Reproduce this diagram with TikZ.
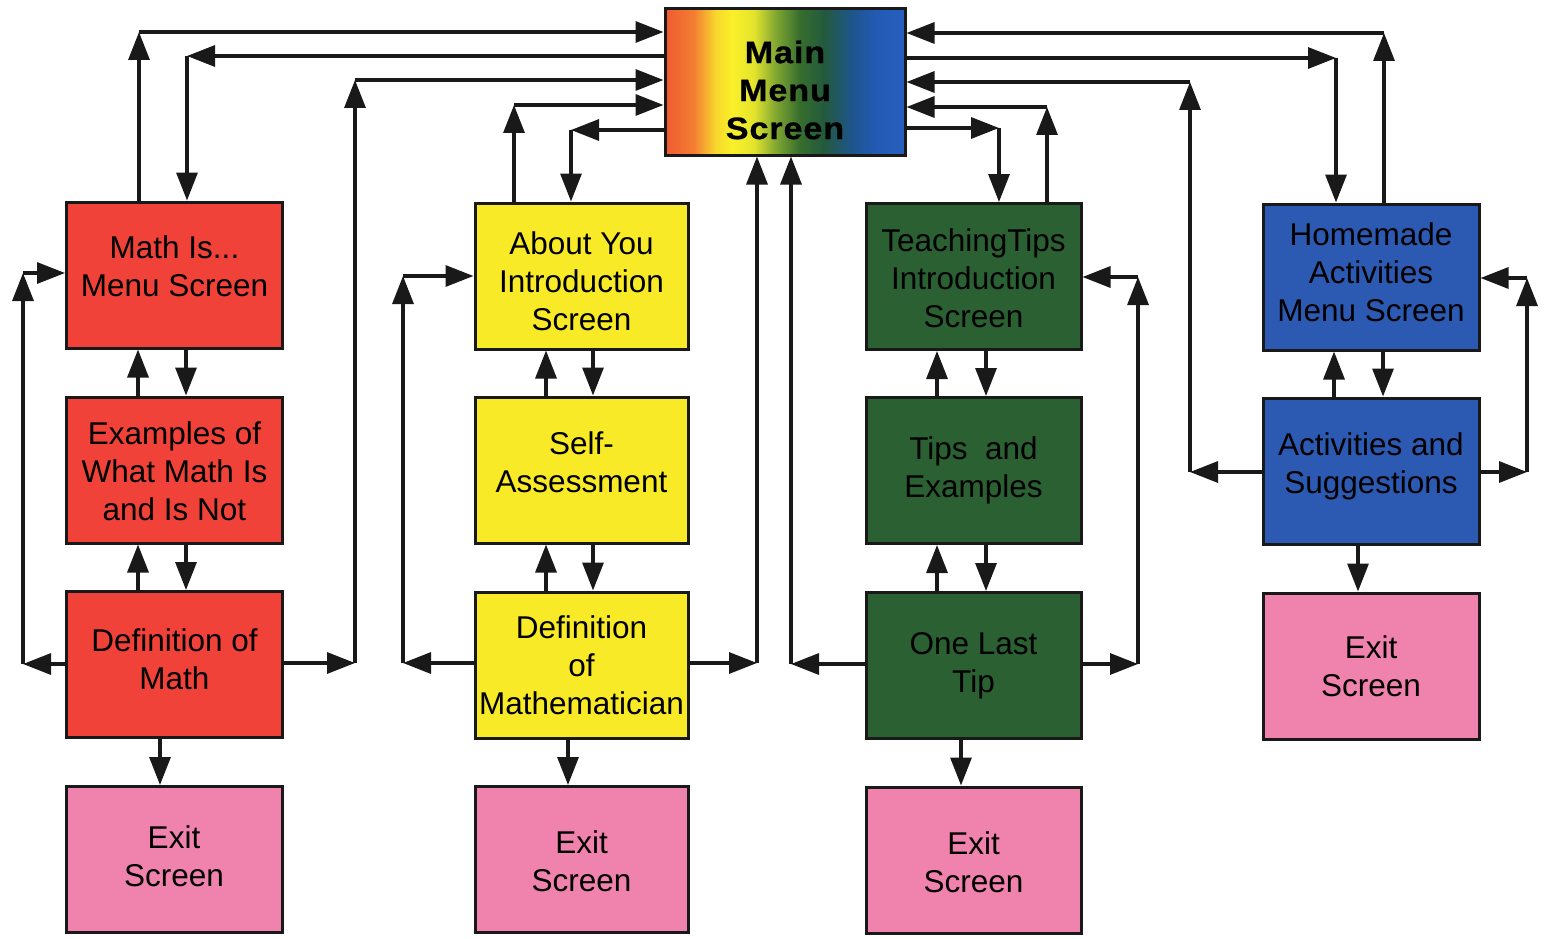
\documentclass[tikz,border=0pt]{standalone}
\usepackage{fontspec}
\setmainfont{Liberation Sans}
\newfontfamily\mainfnt[FakeStretch=1.1,LetterSpace=3,FakeBold=0.8]{Liberation Sans}
\usetikzlibrary{arrows.meta}
\definecolor{cred}{RGB}{240,66,56}
\definecolor{cyel}{RGB}{248,234,38}
\definecolor{cgrn}{RGB}{42,96,50}
\definecolor{cblu}{RGB}{44,90,178}
\definecolor{cpnk}{RGB}{240,130,174}
\definecolor{gA}{RGB}{240,90,50}
\definecolor{gB}{RGB}{243,125,50}
\definecolor{gC}{RGB}{248,215,45}
\definecolor{gD}{RGB}{250,240,40}
\definecolor{gE}{RGB}{228,228,45}
\definecolor{gF}{RGB}{130,168,50}
\definecolor{gG}{RGB}{55,110,45}
\definecolor{gH}{RGB}{35,90,60}
\definecolor{gI}{RGB}{30,85,140}
\definecolor{gJ}{RGB}{35,90,180}
\definecolor{gK}{RGB}{40,95,190}
\pgfdeclarehorizontalshading{rainbow}{100bp}{color(0bp)=(gA); color(25bp)=(gA); color(31bp)=(gB); color(35.5bp)=(gC); color(39bp)=(gD); color(43.5bp)=(gE); color(48bp)=(gF); color(53bp)=(gG); color(58bp)=(gH); color(64bp)=(gI); color(69bp)=(gJ); color(75bp)=(gK); color(100bp)=(gK)}
\tikzset{
  box/.style={draw=black!90, line width=3pt, minimum width=216pt, minimum height=146pt, inner sep=0pt},
  tx/.style={align=center, inner sep=0pt, font=\fontsize{31.5}{38}\selectfont},
  redbox/.style={box, fill=cred},
  yelbox/.style={box, fill=cyel},
  grnbox/.style={box, fill=cgrn},
  blubox/.style={box, fill=cblu},
  pnkbox/.style={box, fill=cpnk},
  arr/.style={-{Triangle[length=28pt,width=21pt]}, line width=3.2pt, draw=black!90},
}
\begin{document}
\begin{tikzpicture}[x=1pt,y=-1pt]
\useasboundingbox (0,0) rectangle (1544,939);
\fill[white] (0,0) rectangle (1544,939);

% main
\node[draw=black!90, line width=3pt, shading=rainbow, minimum width=240pt, minimum height=146pt, inner sep=0pt,
  label={[align=center, inner sep=0pt, yshift=-8pt, font=\mainfnt\bfseries\fontsize{31}{38}\selectfont]center:Main\\Menu\\Screen}] (main) at (785,82) {};

% column 1
\node[redbox, label={[tx,yshift=9pt]center:Math Is...\\Menu Screen}] (mathis) at (174.5,275) {};
\node[redbox, label={[tx,yshift=-1pt]center:Examples of\\What Math Is\\and Is Not}] (examples) at (174.5,470) {};
\node[redbox, label={[tx,yshift=5pt]center:Definition of\\Math}] (defmath) at (174.5,664.5) {};
\node[pnkbox, label={[tx,yshift=3pt]center:Exit\\Screen}] (exitA) at (174,859.5) {};

% column 2
\node[yelbox, minimum width=213pt, label={[tx,yshift=-5pt]center:About You\\Introduction\\Screen}] (about) at (581.5,276) {};
\node[yelbox, minimum width=213pt, label={[tx,yshift=8pt]center:Self-\\Assessment}] (self) at (581.5,470) {};
\node[yelbox, minimum width=213pt, label={[tx]center:Definition\\of\\Mathematician}] (defmat) at (581.5,665) {};
\node[pnkbox, minimum width=213pt, label={[tx,yshift=-2pt]center:Exit\\Screen}] (exitB) at (581.5,859.5) {};

% column 3
\node[grnbox, minimum width=215pt, label={[tx,yshift=-2pt]center:TeachingTips\\Introduction\\Screen}] (tt) at (973.5,276.5) {};
\node[grnbox, minimum width=215pt, label={[tx]center:Tips\ \ and\\Examples}] (tips) at (973.5,470.5) {};
\node[grnbox, minimum width=215pt, label={[tx]center:One Last\\Tip}] (one) at (973.5,665.5) {};
\node[pnkbox, minimum width=215pt, label={[tx,yshift=-2pt]center:Exit\\Screen}] (exitC) at (973.5,860) {};

% column 4
\node[blubox, label={[tx,yshift=5pt]center:Homemade\\Activities\\Menu Screen}] (home) at (1371,277) {};
\node[blubox, label={[tx,yshift=5pt]center:Activities and\\Suggestions}] (act) at (1371,471) {};
\node[pnkbox, label={[tx]center:Exit\\Screen}] (exitD) at (1371,666) {};

% ---- column 1 connectors
\coordinate (a1) at (139,32);
\draw[arr] (mathis.north -| a1) -- (a1);
\draw[arr] (a1) -- (a1 -| main.west);
\coordinate (a2) at (187,56);
\draw[arr] (a2 -| main.west) -- (a2);
\draw[arr] (a2) -- (mathis.north -| a2);
\coordinate (a3b) at (355,663);
\coordinate (a3t) at (355,80);
\draw[arr] (a3b -| defmath.east) -- (a3b);
\draw[arr] (a3b) -- (a3t);
\draw[arr] (a3t) -- (a3t -| main.west);
\coordinate (a4b) at (23,664);
\coordinate (a4t) at (23,273);
\draw[arr] (a4b -| defmath.west) -- (a4b);
\draw[arr] (a4b) -- (a4t);
\draw[arr] (a4t) -- (a4t -| mathis.west);
\coordinate (u1) at (138,0);
\coordinate (d1) at (186,0);
\coordinate (e1) at (160,0);
\draw[arr] (examples.north -| u1) -- (mathis.south -| u1);
\draw[arr] (mathis.south -| d1) -- (examples.north -| d1);
\draw[arr] (defmath.north -| u1) -- (examples.south -| u1);
\draw[arr] (examples.south -| d1) -- (defmath.north -| d1);
\draw[arr] (defmath.south -| e1) -- (exitA.north -| e1);

% ---- column 2 connectors
\coordinate (b1) at (514,105);
\draw[arr] (about.north -| b1) -- (b1);
\draw[arr] (b1) -- (b1 -| main.west);
\coordinate (b2) at (571,130);
\draw[arr] (b2 -| main.west) -- (b2);
\draw[arr] (b2) -- (about.north -| b2);
\coordinate (b3b) at (403,663);
\coordinate (b3t) at (403,276);
\draw[arr] (b3b -| defmat.west) -- (b3b);
\draw[arr] (b3b) -- (b3t);
\draw[arr] (b3t) -- (b3t -| about.west);
\coordinate (b4) at (757,663);
\draw[arr] (b4 -| defmat.east) -- (b4);
\draw[arr] (b4) -- (main.south -| b4);
\coordinate (u2) at (546,0);
\coordinate (d2) at (593,0);
\coordinate (e2) at (568,0);
\draw[arr] (self.north -| u2) -- (about.south -| u2);
\draw[arr] (about.south -| d2) -- (self.north -| d2);
\draw[arr] (defmat.north -| u2) -- (self.south -| u2);
\draw[arr] (self.south -| d2) -- (defmat.north -| d2);
\draw[arr] (defmat.south -| e2) -- (exitB.north -| e2);

% ---- column 3 connectors
\coordinate (c1) at (791,664);
\draw[arr] (c1 -| one.west) -- (c1);
\draw[arr] (c1) -- (main.south -| c1);
\coordinate (c2) at (999,128);
\draw[arr] (c2 -| main.east) -- (c2);
\draw[arr] (c2) -- (tt.north -| c2);
\coordinate (c3) at (1047,107);
\draw[arr] (tt.north -| c3) -- (c3);
\draw[arr] (c3) -- (c3 -| main.east);
\coordinate (c4b) at (1138,664);
\coordinate (c4t) at (1138,277);
\draw[arr] (c4b -| one.east) -- (c4b);
\draw[arr] (c4b) -- (c4t);
\draw[arr] (c4t) -- (c4t -| tt.east);
\coordinate (u3) at (937,0);
\coordinate (d3) at (986,0);
\coordinate (e3) at (961,0);
\draw[arr] (tips.north -| u3) -- (tt.south -| u3);
\draw[arr] (tt.south -| d3) -- (tips.north -| d3);
\draw[arr] (one.north -| u3) -- (tips.south -| u3);
\draw[arr] (tips.south -| d3) -- (one.north -| d3);
\draw[arr] (one.south -| e3) -- (exitC.north -| e3);

% ---- column 4 connectors
\coordinate (h1) at (1384,33);
\draw[arr] (home.north -| h1) -- (h1);
\draw[arr] (h1) -- (h1 -| main.east);
\coordinate (h2) at (1336,58);
\draw[arr] (h2 -| main.east) -- (h2);
\draw[arr] (h2) -- (home.north -| h2);
\coordinate (h3b) at (1190,472);
\coordinate (h3t) at (1190,82);
\draw[arr] (h3b -| act.west) -- (h3b);
\draw[arr] (h3b) -- (h3t);
\draw[arr] (h3t) -- (h3t -| main.east);
\coordinate (h4b) at (1527,472);
\coordinate (h4t) at (1527,278);
\draw[arr] (h4b -| act.east) -- (h4b);
\draw[arr] (h4b) -- (h4t);
\draw[arr] (h4t) -- (h4t -| home.east);
\coordinate (u4) at (1334,0);
\coordinate (d4) at (1383,0);
\coordinate (e4) at (1358,0);
\draw[arr] (act.north -| u4) -- (home.south -| u4);
\draw[arr] (home.south -| d4) -- (act.north -| d4);
\draw[arr] (act.south -| e4) -- (exitD.north -| e4);
\end{tikzpicture}
\end{document}
